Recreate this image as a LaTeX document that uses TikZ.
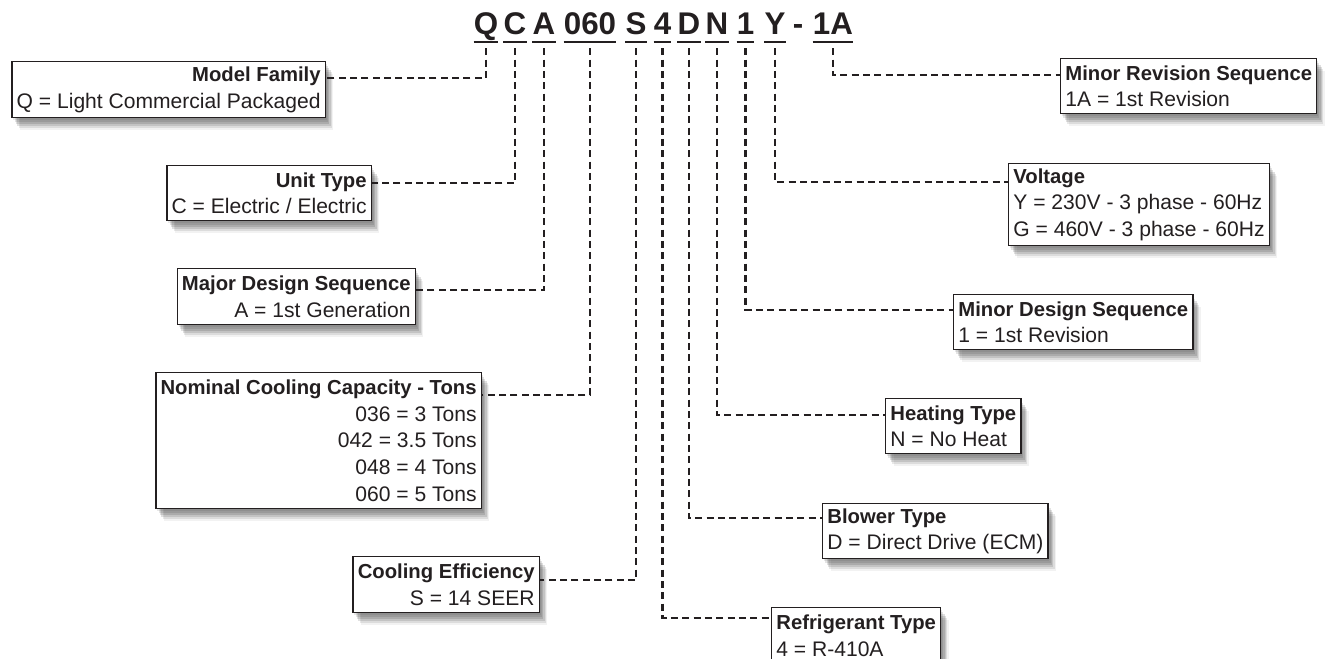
\documentclass[tikz,border=0pt]{standalone}
\usepackage{fontspec}
\setmainfont{Liberation Sans}
\usetikzlibrary{shadows}
\definecolor{ink}{HTML}{231F20}
\newcommand{\boxtitle}[1]{{\fontsize{15.2}{20}\selectfont\bfseries #1}}
\begin{document}
\begin{tikzpicture}[x=0.75pt,y=-0.75pt,
  shadowed/.style={
    general shadow={fill=black!85, opacity=0.10, shadow xshift=1pt, shadow yshift=-1.5pt},
    general shadow={fill=black!85, opacity=0.12, shadow xshift=2pt, shadow yshift=-3pt},
    general shadow={fill=black!85, opacity=0.14, shadow xshift=3pt, shadow yshift=-4.5pt},
    general shadow={fill=black!85, opacity=0.14, shadow xshift=4pt, shadow yshift=-6pt},
    general shadow={fill=black!85, opacity=0.10, shadow xshift=5pt, shadow yshift=-7.5pt},
    general shadow={fill=black!85, opacity=0.06, shadow xshift=6pt, shadow yshift=-9pt}},
  box/.style={draw=ink, line width=1.1pt, fill=white, inner xsep=3.5pt, inner ysep=1pt,
    font=\fontsize{15.8}{20}\selectfont, text=ink, shadowed},
  lbox/.style={box, align=right, anchor=north east},
  rbox/.style={box, align=left, anchor=north west},
  code/.style={font=\fontsize{23.5}{24}\selectfont\bfseries, text=ink, inner sep=0pt, anchor=base},
  uline/.style={draw=ink, line width=1.9pt},
  conn/.style={draw=ink, line width=1.7pt, dash pattern=on 5.25pt off 3.25pt}]
\useasboundingbox (0,0) rectangle (1330,659);
\clip (0,0) rectangle (1330,659);
\fill[white] (0,0) rectangle (1330,659);

% code letters
\node[code] (cq)   at (486,35)   {Q};
\node[code] (cc)   at (515,35)   {C};
\node[code] (ca)   at (544,35)   {A};
\node[code] (c060) at (590,35)   {060};
\node[code] (cs)   at (636,35)   {S};
\node[code] (c4)   at (662.5,35) {4};
\node[code] (cd)   at (689,35)   {D};
\node[code] (cn)   at (717,35)   {N};
\node[code] (c1)   at (745.5,35) {1};
\node[code] (cy)   at (775,35)   {Y};
\node[code] (cdash) at (798,35)  {-};
\node[code] (c1a)  at (833,35)   {1A};
\foreach \n in {cq,cc,ca,c060,cs,c4,cd,cn,c1,cy,c1a}
  \draw[uline] ([yshift=-5.25pt]\n.base west) -- ([yshift=-5.25pt]\n.base east);

% left boxes
\node[lbox, minimum height=42pt] (mf) at (326,61)
  {\boxtitle{Model Family}\\Q = Light Commercial Packaged};
\node[lbox, minimum height=41.25pt] (ut) at (372,165)
  {\boxtitle{Unit Type}\\C = Electric / Electric};
\node[lbox, minimum height=42pt] (mds) at (416,268)
  {\boxtitle{Major Design Sequence}\\A = 1st Generation};
\node[lbox, minimum height=102pt] (ncc) at (482,372)
  {\boxtitle{Nominal Cooling Capacity - Tons}\\036 = 3 Tons\\042 = 3.5 Tons\\048 = 4 Tons\\060 = 5 Tons};
\node[lbox, minimum height=42pt] (ce) at (540,556)
  {\boxtitle{Cooling Efficiency}\\S = 14 SEER};

% right boxes
\node[rbox, minimum height=41.25pt] (mrs) at (1060,58)
  {\boxtitle{Minor Revision Sequence}\\1A = 1st Revision};
\node[rbox, minimum height=61.5pt] (vol) at (1008,163)
  {\boxtitle{Voltage}\\Y = 230V - 3 phase - 60Hz\\G = 460V - 3 phase - 60Hz};
\node[rbox, minimum height=41.25pt] (mnd) at (953,294)
  {\boxtitle{Minor Design Sequence}\\1 = 1st Revision};
\node[rbox, minimum height=41.25pt] (ht) at (885,398)
  {\boxtitle{Heating Type}\\N = No Heat};
\node[rbox, minimum height=41.25pt] (bt) at (822,503)
  {\boxtitle{Blower Type}\\D = Direct Drive (ECM)};
\node[rbox, minimum height=42pt] (rt) at (771,607)
  {\boxtitle{Refrigerant Type}\\4 = R-410A};

% connectors
\draw[conn] ([yshift=-10pt]cq.base)   |- ([yshift=-12.75pt]mf.north east);
\draw[conn] ([yshift=-10pt]cc.base)   |- ([yshift=-13.5pt]ut.north east);
\draw[conn] ([yshift=-10pt]ca.base)   |- ([yshift=-16.5pt]mds.north east);
\draw[conn] ([yshift=-10pt]c060.base) |- ([yshift=-17.25pt]ncc.north east);
\draw[conn] ([yshift=-10pt]cs.base)   |- ([yshift=-18pt]ce.north east);
\draw[conn] ([yshift=-10pt]c4.base)   |- ([yshift=-8.25pt]rt.north west);
\draw[conn] ([yshift=-10pt]cd.base)   |- ([yshift=-11.25pt]bt.north west);
\draw[conn] ([yshift=-10pt]cn.base)   |- ([yshift=-12.75pt]ht.north west);
\draw[conn] ([yshift=-10pt]c1.base)   |- ([yshift=-12pt]mnd.north west);
\draw[conn] ([yshift=-10pt]cy.base)   |- ([yshift=-14.25pt]vol.north west);
\draw[conn] ([yshift=-10pt]c1a.base)  |- ([yshift=-12.75pt]mrs.north west);
\end{tikzpicture}
\end{document}
